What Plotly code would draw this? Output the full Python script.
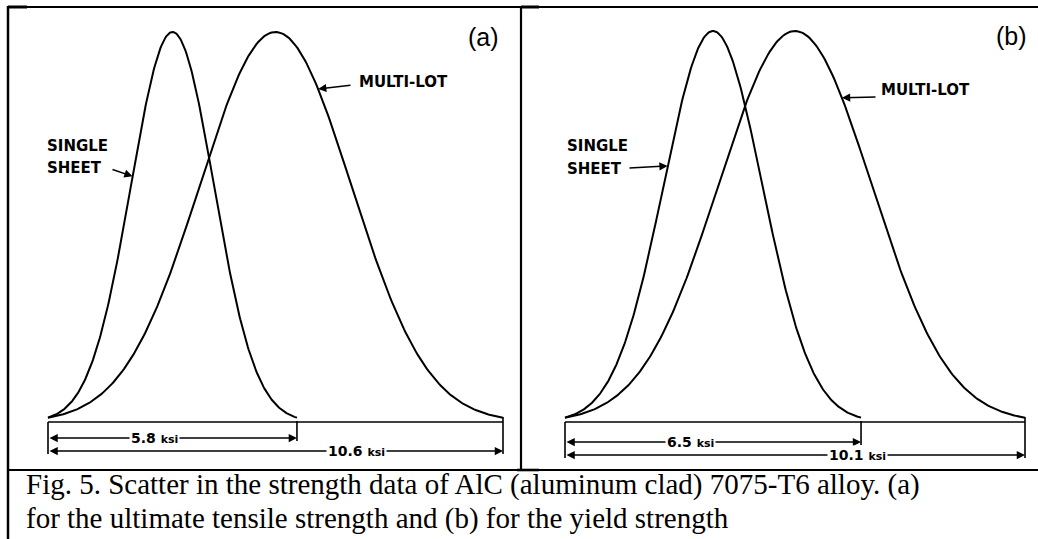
import numpy as np
import plotly.graph_objects as go

# ---------------- data ----------------
panel_tags = ["(a)", "(b)"]
single_sheet_range_ksi = [5.8, 6.5]     # total spread of single-sheet data
multi_lot_range_ksi = [10.6, 10.1]      # total spread of multi-lot data
single_labels = ["5.8", "6.5"]
multi_labels = ["10.6", "10.1"]
series_names = ["SINGLE SHEET", "MULTI-LOT"]
caption_lines = [
    "Fig. 5. Scatter in the strength data of AlC (aluminum clad) 7075-T6 alloy. (a)",
    "for the ultimate tensile strength and (b) for the yield strength",
]

# ---------------- layout geometry (pixels) ----------------
W, H = 1038, 539
SEP_X = 521
FRAME_TOP, DIVIDER_Y, LEFT_X = 7, 470, 8
panel_geo = [
    dict(x0=48, x1=503, base=422, peak=32, dom=(10, SEP_X - 2)),
    dict(x0=565, x1=1025, base=422, peak=31, dom=(SEP_X + 3, 1036)),
]
PLOT_TOP, PLOT_BOT = 9, 468


def px(x):
    return x / W


def py(y):
    return 1 - y / H


def bell(r, n=300):
    x = np.linspace(0, r, n)
    mu, sd = r / 2, r / 6
    return x, np.exp(-0.5 * ((x - mu) / sd) ** 2)


def on_curve(r, v, side):
    mu, sd = r / 2, r / 6
    return mu + side * sd * np.sqrt(-2 * np.log(v))


fig = go.Figure()
shapes, annos = [], []
BOLD = "DejaVu Sans"

for i in range(2):
    g = panel_geo[i]
    rs, rm = single_sheet_range_ksi[i], multi_lot_range_ksi[i]
    ppk = (g["x1"] - g["x0"]) / rm
    hh = g["base"] - g["peak"]
    xr = [(g["dom"][0] - g["x0"]) / ppk, (g["dom"][1] - g["x0"]) / ppk]
    yr = [(g["base"] - PLOT_BOT) / hh, (g["base"] - PLOT_TOP) / hh]
    sx = "" if i == 0 else "2"
    xa, ya = "x" + sx, "y" + sx

    def X(p):
        return (p - g["x0"]) / ppk

    def Y(p):
        return (g["base"] - p) / hh

    fig.update_layout(**{
        "xaxis" + sx: dict(domain=[px(g["dom"][0]), px(g["dom"][1])], range=xr,
                           visible=False, fixedrange=True, anchor=ya),
        "yaxis" + sx: dict(domain=[py(PLOT_BOT), py(PLOT_TOP)], range=yr,
                           visible=False, fixedrange=True, anchor=xa),
    })

    for r, name in [(rs, series_names[0]), (rm, series_names[1])]:
        xx, yy = bell(r)
        fig.add_trace(go.Scatter(x=xx, y=yy, mode="lines", name=name,
                                 line=dict(color="black", width=2),
                                 xaxis=xa, yaxis=ya, showlegend=False,
                                 hoverinfo="skip"))

    # baseline
    shapes.append(dict(type="line", xref=xa, yref=ya, x0=0, x1=rm, y0=0, y1=0,
                       line=dict(color="black", width=1.6)))
    d1 = 438 if i == 0 else 442
    d2 = 451 if i == 0 else 455
    tick_end = d2 + 3
    # dimension ticks
    for xt, y0p, y1p in [(0, g["base"], tick_end), (rs, g["base"] - 1, d1 + 3),
                         (rm, g["base"] - 5, tick_end)]:
        shapes.append(dict(type="line", xref=xa, yref=ya, x0=xt, x1=xt,
                           y0=Y(y0p), y1=Y(y1p), line=dict(color="black", width=1.6)))
    # dimension arrows
    for r, dy in [(rs, d1), (rm, d2)]:
        annos.append(dict(xref=xa, yref=ya, axref=xa, ayref=ya, x=r, y=Y(dy),
                          ax=0, ay=Y(dy), text="", showarrow=True,
                          arrowside="end+start", arrowhead=2, arrowsize=1.1,
                          arrowwidth=1.5, arrowcolor="black"))
    # dimension texts
    t1x = 154 if i == 0 else 690
    t2x = 356 if i == 0 else 857
    for tx, dy, lab in [(t1x, d1, single_labels[i]), (t2x, d2, multi_labels[i])]:
        annos.append(dict(xref="paper", yref="paper", x=px(tx), y=py(dy),
                          xanchor="center", yanchor="middle", showarrow=False,
                          bgcolor="white", borderpad=1,
                          text=f"<b>{lab} </b><span style='font-size:11px'><b>ksi</b></span>",
                          font=dict(family=BOLD, size=14, color="black")))

    # series labels
    sl_x = 45 if i == 0 else 565
    annos.append(dict(xref="paper", yref="paper", x=px(sl_x), y=py(146),
                      xanchor="left", yanchor="middle", showarrow=False,
                      text="<b>SINGLE</b>", font=dict(family=BOLD, size=15, color="black")))
    annos.append(dict(xref="paper", yref="paper", x=px(sl_x), y=py(168 if i == 0 else 169),
                      xanchor="left", yanchor="middle", showarrow=False,
                      text="<b>SHEET</b>", font=dict(family=BOLD, size=15, color="black")))
    ml_x, ml_y = (357, 82) if i == 0 else (879, 90)
    annos.append(dict(xref="paper", yref="paper", x=px(ml_x), y=py(ml_y),
                      xanchor="left", yanchor="middle", showarrow=False,
                      text="<b>MULTI-LOT</b>", font=dict(family=BOLD, size=15, color="black")))

    # pointer arrows
    if i == 0:
        s_tail, s_v = (111, 169), 0.63
        m_tail, m_v = (352, 85), 0.854
    else:
        s_tail, s_v = (628, 168), 0.655
        m_tail, m_v = (877, 97), 0.829
    annos.append(dict(xref=xa, yref=ya, axref=xa, ayref=ya,
                      x=on_curve(rs, s_v, -1), y=s_v, ax=X(s_tail[0]), ay=Y(s_tail[1]),
                      text="", showarrow=True, arrowhead=2, arrowsize=1.1,
                      arrowwidth=1.5, arrowcolor="black"))
    annos.append(dict(xref=xa, yref=ya, axref=xa, ayref=ya,
                      x=on_curve(rm, m_v, 1), y=m_v, ax=X(m_tail[0]), ay=Y(m_tail[1]),
                      text="", showarrow=True, arrowhead=2, arrowsize=1.1,
                      arrowwidth=1.5, arrowcolor="black"))

    # panel tag
    tx, ty = (483, 37) if i == 0 else (1011, 36)
    annos.append(dict(xref="paper", yref="paper", x=px(tx), y=py(ty),
                      xanchor="center", yanchor="middle", showarrow=False,
                      text=panel_tags[i], font=dict(family="Liberation Sans", size=25, color="black")))

# frame lines
def pline(x0, y0, x1, y1, w):
    shapes.append(dict(type="line", xref="paper", yref="paper",
                       x0=px(x0), y0=py(y0), x1=px(x1), y1=py(y1),
                       line=dict(color="black", width=w)))

pline(LEFT_X, FRAME_TOP, W, FRAME_TOP, 2)
pline(LEFT_X, FRAME_TOP, 27, FRAME_TOP, 3)
pline(SEP_X, FRAME_TOP, SEP_X + 18, FRAME_TOP, 3)
pline(LEFT_X, FRAME_TOP - 1, LEFT_X, H, 2.5)
pline(SEP_X, FRAME_TOP, SEP_X, DIVIDER_Y, 2.2)
pline(LEFT_X, DIVIDER_Y, W, DIVIDER_Y, 2)
pline(SEP_X - 4, DIVIDER_Y, SEP_X + 18, DIVIDER_Y, 2.6)

# caption
for k, (line, yc) in enumerate(zip(caption_lines, [484, 518])):
    annos.append(dict(xref="paper", yref="paper", x=px(24), y=py(yc),
                      xanchor="left", yanchor="middle", showarrow=False,
                      text=line, font=dict(family="Liberation Serif", size=29, color="black")))

fig.update_layout(width=W, height=H, margin=dict(l=0, r=0, t=0, b=0),
                  paper_bgcolor="white", plot_bgcolor="white",
                  shapes=shapes, annotations=annos, showlegend=False)

fig.write_html("out.html", config={"displayModeBar": False},
               post_script="document.body.style.margin='0';document.body.style.overflow='hidden';")
